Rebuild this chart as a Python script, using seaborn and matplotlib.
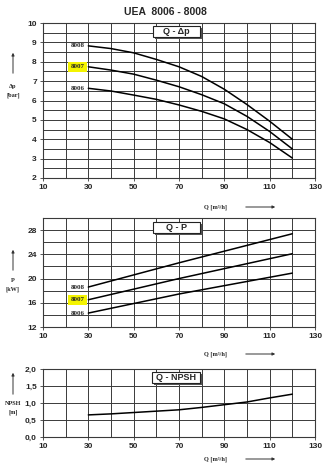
import numpy as np
import pandas as pd
import matplotlib
matplotlib.use("Agg")
import matplotlib.pyplot as plt
import seaborn as sns
from matplotlib.patches import Rectangle, FancyArrowPatch

# ---------------- data ----------------
series_names = ["8006", "8007", "8008"]

q_dp = [30, 40, 50, 60, 70, 80, 90, 100, 110, 120]
dp_8008 = [8.82, 8.68, 8.46, 8.12, 7.74, 7.24, 6.58, 5.79, 4.93, 4.00]
dp_8007 = [7.74, 7.57, 7.36, 7.05, 6.71, 6.30, 5.83, 5.18, 4.40, 3.50]
dp_8006 = [6.63, 6.49, 6.28, 6.06, 5.77, 5.44, 5.05, 4.50, 3.83, 3.03]

q_p = [30, 70, 120]
p_8008 = [18.6, 22.6, 27.4]
p_8007 = [16.5, 20.0, 24.1]
p_8006 = [14.3, 17.45, 20.9]

q_npsh = [30, 40, 50, 60, 70, 80, 90, 100, 110, 120]
npsh = [0.65, 0.68, 0.72, 0.76, 0.80, 0.87, 0.95, 1.03, 1.15, 1.26]

x_ticks = [10, 30, 50, 70, 90, 110, 130]
dp_ticks = [2, 3, 4, 5, 6, 7, 8, 9, 10]
p_ticks = [12, 16, 20, 24, 28]
npsh_ticks = [0.0, 0.5, 1.0, 1.5, 2.0]
npsh_ticklabels = ["0,0", "0,5", "1,0", "1,5", "2,0"]

title = "UEA  8006 - 8008"
panel_titles = ["Q - \u0394p", "Q - P", "Q - NPSH"]
ylabels = ["\u0394p\n[bar]", "P\n[kW]", "NPSH\n[m]"]
xlabel = "Q [m\u00b3/h]"

# --------------- frames ---------------
df_dp = pd.concat([
    pd.DataFrame({"Q": q_dp, "val": v, "pump": n})
    for n, v in zip(series_names, [dp_8006, dp_8007, dp_8008])
])
df_p = pd.concat([
    pd.DataFrame({"Q": q_p, "val": v, "pump": n})
    for n, v in zip(series_names, [p_8006, p_8007, p_8008])
])
df_n = pd.DataFrame({"Q": q_npsh, "val": npsh})

sns.set_style("white")
plt.rcParams["font.family"] = ["Liberation Sans", "DejaVu Sans"]

W, H = 328, 472
fig = plt.figure(figsize=(W / 100, H / 100), dpi=100)


def fbox(l, t, r, b):
    return [l / W, 1 - b / H, (r - l) / W, (b - t) / H]


ax1 = fig.add_axes(fbox(43, 23, 315, 178))
ax2 = fig.add_axes(fbox(43, 218, 315, 327))
ax3 = fig.add_axes(fbox(43, 369, 315, 437))

pal = {n: "black" for n in series_names}
sns.lineplot(data=df_dp, x="Q", y="val", hue="pump", palette=pal, ax=ax1,
             legend=False, linewidth=1.1, estimator=None)
sns.lineplot(data=df_p, x="Q", y="val", hue="pump", palette=pal, ax=ax2,
             legend=False, linewidth=1.1, estimator=None)
sns.lineplot(data=df_n, x="Q", y="val", color="black", ax=ax3,
             linewidth=1.1, estimator=None)

gridc = "#3a3a3a"
for ax in (ax1, ax2, ax3):
    ax.set_xlim(10, 130)
    ax.set_xticks(x_ticks)
    ax.set_xticks(np.arange(10, 131, 10), minor=True)
    ax.set_xlabel("")
    ax.set_ylabel("")
    ax.grid(True, which="both", color=gridc, linewidth=0.7)
    ax.set_axisbelow(True)
    for s in ax.spines.values():
        s.set_color(gridc)
        s.set_linewidth(0.8)
    ax.tick_params(axis="both", which="major", labelsize=6, length=2.5,
                   width=0.6, color=gridc, pad=2, bottom=True, left=True)
    ax.tick_params(axis="both", which="minor", length=0)

ax1.set_ylim(2, 10)
ax1.set_yticks(dp_ticks)
ax1.set_yticks(np.arange(2, 10.01, 0.5), minor=True)
ax2.set_ylim(12, 30)
ax2.set_yticks(p_ticks)
ax2.set_yticks(np.arange(12, 30.01, 2), minor=True)
ax3.set_ylim(0, 2)
ax3.set_yticks(npsh_ticks)
ax3.set_yticklabels(npsh_ticklabels)
for ax in (ax1, ax2, ax3):
    for lab in ax.get_xticklabels() + ax.get_yticklabels():
        lab.set_fontweight("bold")

# curve labels
serif = ["Liberation Serif", "DejaVu Serif"]
for ax, vals in ((ax1, [dp_8006, dp_8007, dp_8008]), (ax2, [p_8006, p_8007, p_8008])):
    for n, v in zip(series_names, vals):
        kw = {}
        if n == "8007":
            kw["bbox"] = dict(boxstyle="square,pad=0.35", fc="#f4f400", ec="none")
        ax.text(28.3, v[0], n, ha="right", va="center", fontsize=5,
                fontweight="bold", family=serif, **kw)

# title
fig.text(165 / W, 1 - 12 / H, title, ha="center", va="center",
         fontsize=7.5, fontweight="bold")

# panel title boxes with shadow
boxes = [(153, 26, 200, 37), (153, 222, 200, 233), (152, 372, 200, 383)]
for (l, t, r, b), txt in zip(boxes, panel_titles):
    fig.patches.append(Rectangle(((l + 2) / W, 1 - (b + 2) / H), (r - l) / W,
                                 (b - t) / H, transform=fig.transFigure,
                                 fc="#555555", ec="none", zorder=5))
    fig.patches.append(Rectangle((l / W, 1 - b / H), (r - l) / W, (b - t) / H,
                                 transform=fig.transFigure, fc="white",
                                 ec="#222222", lw=0.8, zorder=6))
    fig.text((l + r) / 2 / W, 1 - (t + b) / 2 / H, txt, ha="center",
             va="center", fontsize=6.5, fontweight="bold", zorder=7)

# y labels with up arrows
ylab_pos = [((13, 76), (13, 50), 91), ((13, 273), (13, 247), 285), ((13, 397), (13, 370), 408)]
for (a0, a1, ty), lab in zip(ylab_pos, ylabels):
    fig.patches.append(FancyArrowPatch((a0[0] / W, 1 - a0[1] / H), (a1[0] / W, 1 - a1[1] / H),
                                       transform=fig.transFigure, arrowstyle="-|>",
                                       mutation_scale=4, lw=0.7, color="#333333"))
    fig.text(13 / W, 1 - ty / H, lab, ha="center", va="center", fontsize=4.5,
             fontweight="bold", family=serif, linespacing=1.8)

# x labels with right arrows
for y in (207, 354, 459):
    fig.text(215 / W, 1 - y / H, xlabel, ha="center", va="center", fontsize=4.5,
             fontweight="bold", family=serif)
    fig.patches.append(FancyArrowPatch((243 / W, 1 - y / H), (278 / W, 1 - y / H),
                                       transform=fig.transFigure, arrowstyle="-|>",
                                       mutation_scale=4, lw=0.7, color="#333333"))

fig.savefig("out.png", dpi=100)
